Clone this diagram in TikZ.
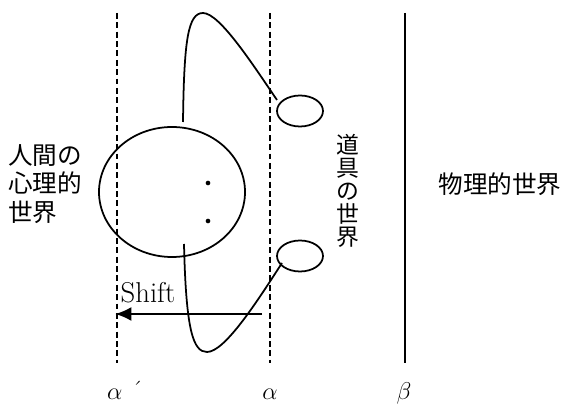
\documentclass[tikz,border=0pt]{standalone}
\usepackage{fontspec}
\newfontfamily\jpfont{Noto Sans CJK JP}
\usetikzlibrary{shapes.geometric, arrows.meta, positioning}
\tikzset{
  guide/.style={dashed, dash pattern=on 5pt off 3pt, line width=1.4pt},
  boundary/.style={line width=2pt},
  wire/.style={line width=1.5pt},
  bigring/.style={ellipse, draw, line width=1.5pt, minimum width=4.38cm,
    minimum height=3.9cm, inner sep=0pt},
  toolring/.style={ellipse, draw, line width=1.5pt, minimum width=1.38cm,
    minimum height=0.93cm, inner sep=0pt},
  dot/.style={circle, fill, inner sep=0pt, minimum size=4pt},
  jplabel/.style={font=\jpfont\fontsize{21}{24}\selectfont, inner sep=0pt},
  jpcolumn/.style={font=\jpfont\fontsize{19.5}{19.5}\selectfont, inner sep=0pt, align=center},
  greek/.style={font=\fontsize{20}{24}\selectfont, inner sep=0pt, anchor=base},
  shiftarrow/.style={-{Latex[length=14pt, width=12pt]}, line width=2pt},
}
\begin{document}
\begin{tikzpicture}[x=0.03cm, y=-0.03cm]
  \useasboundingbox (0,0) rectangle (563,405);
  % the three borders
  \coordinate (a1top) at (117,13);
  \coordinate (a1bot) at (117,363);
  \coordinate (a2top) at (270,13);
  \coordinate (a2bot) at (270,363);
  \coordinate (btop) at (405,13);
  \coordinate (bbot) at (405,363);
  \draw[guide] (a1top) -- (a1bot);
  \draw[guide] (a2top) -- (a2bot);
  \draw[boundary] (btop) -- (bbot);

  % mind and tools
  \node[bigring] (mind) at (172,192) {};
  \node[dot] (dup) at (208,183) {};
  \node[dot] (ddown) at (208,221) {};
  \node[toolring] (tooltop) at (300,111) {};
  \node[toolring] (toolbot) at (300,256) {};

  % loops out to the tools
  \coordinate (upstart) at (183,122);
  \coordinate (upend) at (277,100);
  \coordinate (lowstart) at (184,244);
  \coordinate (lowend) at (282,263);
  \draw[wire] (upstart) .. controls (184,40) and (188,13) .. (203,13)
    .. controls (220,13) and (255,68) .. (upend);
  \draw[wire] (lowstart) .. controls (186,330) and (193,352) .. (207,352)
    .. controls (225,352) and (258,300) .. (lowend);

  % shift
  \coordinate (shiftfrom) at (262,314);
  \coordinate (shiftto) at (115,314);
  \draw[shiftarrow] (shiftfrom) -- (shiftto);
  \node[font=\fontsize{24.5}{28}\selectfont, inner sep=0pt] (shift) at (148,293) {Shift};

  % worlds
  \node[jplabel, align=left, anchor=west] (human) at (8,184) {人間の\\心理的\\世界};
  \node[jpcolumn] (tools) at (348,191) {道\\具\\の\\世\\界};
  \node[jplabel] (phys) at (500,184) {物理的世界};

  % border names
  \node[greek, anchor=base west] (alphap) at (107,400) {$\alpha$\hspace{8pt}\raisebox{2pt}{\textasciiacute}};
  \node[greek] (alpha) at (270,400) {$\alpha$};
  \node[greek] (beta) at (404,400) {$\beta$};
\end{tikzpicture}
\end{document}
